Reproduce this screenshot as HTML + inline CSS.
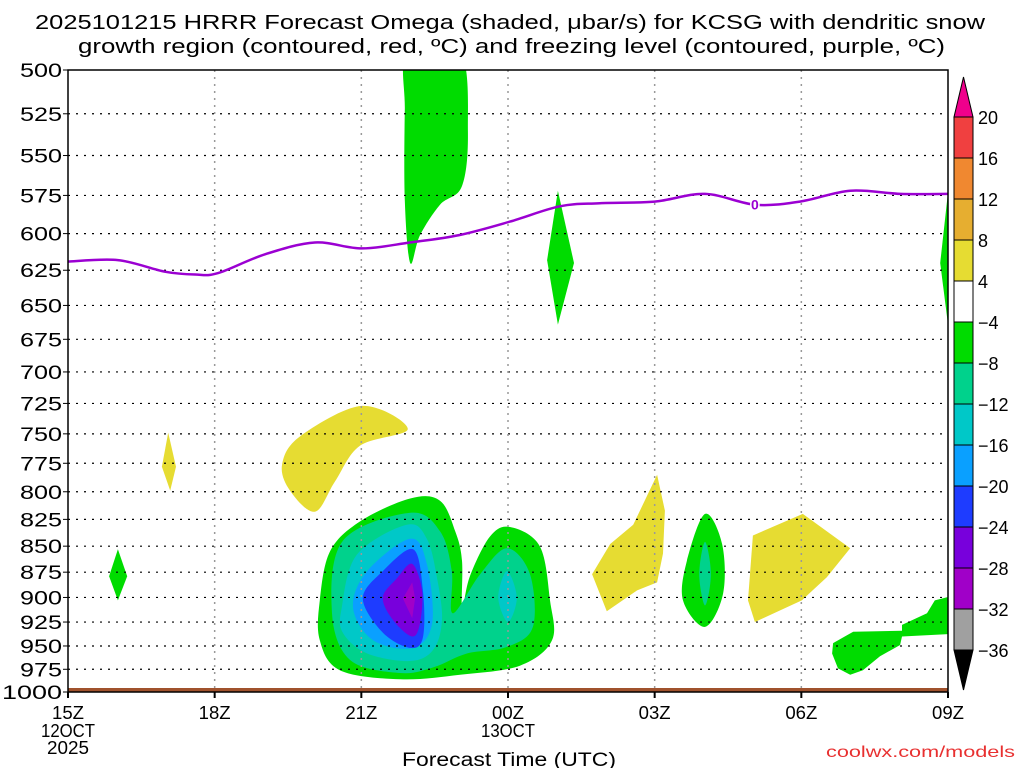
<!DOCTYPE html>
<html><head><meta charset="utf-8"><style>
body{margin:0;background:#fff;width:1024px;height:768px;overflow:hidden;font-family:"Liberation Sans",sans-serif}
svg text{font-family:"Liberation Sans","DejaVu Sans",sans-serif}
</style></head><body>
<svg id="c" width="1024" height="768" xmlns="http://www.w3.org/2000/svg">
<defs><clipPath id="pc"><rect x="68" y="70" width="880" height="622"/></clipPath></defs>
<text x="35" y="29" font-size="20" textLength="950" lengthAdjust="spacingAndGlyphs">2025101215 HRRR Forecast Omega (shaded, μbar/s) for KCSG with dendritic snow</text>
<text x="78" y="53" font-size="20" textLength="867" lengthAdjust="spacingAndGlyphs">growth region (contoured, red, ºC) and freezing level (contoured, purple, ºC)</text>
<g id="fills" clip-path="url(#pc)"></g>
<g id="grid"></g>
<g id="axes"></g>
<g id="cbar"></g>
<text x="402" y="766" font-size="19" textLength="214" lengthAdjust="spacingAndGlyphs">Forecast Time (UTC)</text>
<text x="826" y="757" font-size="16" fill="#e83030" textLength="189" lengthAdjust="spacingAndGlyphs">coolwx.com/models</text>
</svg>
<script>
// ---- data ----
const xTickLabels=["15Z","18Z","21Z","00Z","03Z","06Z","09Z"];
const xTickHours=[0,3,6,9,12,15,18];
const yTickLevels=[500,525,550,575,600,625,650,675,700,725,750,775,800,825,850,875,900,925,950,975,1000];
const freezeHours=[0,1.02,1.98,2.6,3.07,4.03,5.05,6.01,6.99,8.0,9.04,10.06,10.88,12.0,13.03,14.05,14.97,16.0,17.02,18.0];
const freezePres=[619,618,626,628,627,614,606,610,606,601,592,582,580,579,574,581,579,572,574,574];
const cbarLevels=["20","16","12","8","4","−4","−8","−12","−16","−20","−24","−28","−32","−36"];
const cbarColors=["#f04040","#f08830","#e6ae30","#e6dc32","#ffffff","#00dc00","#00d28c","#00c8c8","#0aa0ff","#1e3cff","#7800dc","#a000c8","#a0a0a0"];
// shaded regions: [color, [[hour,pressure],...], smooth]
const regions=[
["#00dc00",[[6.95,490],[8.02,490],[8.18,535],[8.06,569],[7.61,581],[7.2,601],[7.0,620],[6.89,578],[6.89,523]],1],
["#00dc00",[[10.02,572],[10.35,620],[10.02,664],[9.8,618]],0],
["#00dc00",[[18,573],[18,664],[17.84,620]],0],
["#e6dc32",[[2.05,749],[2.21,778],[2.09,799],[1.92,778]],0],
["#00dc00",[[1.02,853],[1.21,879],[1.02,903],[0.84,879]],0],
["#e6dc32",[[4.38,776],[4.75,752],[6.01,727],[6.95,746],[5.97,760],[5.46,791],[5.05,818],[4.54,799]],1],
["#00dc00",[[5.15,903],[5.36,855],[5.97,827],[7.0,806],[7.61,808],[7.92,836],[8.06,864],[8.06,912],[8.22,879],[8.63,841],[9.04,832],[9.65,850],[9.86,903],[9.9,944],[9.25,971],[8.02,981],[6.79,986],[5.56,976],[5.15,944]],1],
["#00d28c",[[5.40,916],[5.62,845],[7.0,819],[7.61,836],[7.85,874],[7.87,916],[8.43,877],[8.98,852],[9.45,877],[9.51,930],[8.98,951],[8.16,958],[7.47,973],[6.79,979],[5.77,965]],1],
["#00c8c8",[[5.60,910],[5.91,858],[6.93,830],[7.34,843],[7.55,881],[7.65,923],[7.47,954],[7.0,966],[6.12,958],[5.62,936]],1],
["#00c8c8",[[8.98,874],[9.18,900],[9.0,925],[8.8,900]],1],
["#0aa0ff",[[5.83,910],[6.12,874],[7.0,843],[7.34,867],[7.45,926],[7.06,952],[6.24,944]],1],
["#1e3cff",[[6.03,901],[6.44,874],[7.06,853],[7.26,893],[7.26,941],[7.0,952],[6.44,936]],1],
["#7800dc",[[6.44,900],[6.73,881],[7.04,867],[7.24,893],[7.2,926],[7.04,940],[6.65,923]],1],
["#a000c8",[[6.85,901],[7.04,885],[7.1,901],[7.04,921]],0],
["#e6dc32",[[12.05,785],[12.21,817],[12.17,857],[12.05,885],[11.64,893],[11.02,914],[10.72,877],[11.09,848],[11.56,830]],0],
["#00dc00",[[13.03,820],[13.38,848],[13.4,896],[13.03,930],[12.58,903],[12.66,864]],1],
["#00d28c",[[13.03,846],[13.15,877],[13.03,908],[12.91,877]],1],
["#e6dc32",[[15.03,820],[16.0,852],[15.52,880],[15.01,903],[14.05,925],[13.91,903],[14.01,840]],0],
["#00dc00",[[18.2,897],[18.2,937],[17.06,940],[17.02,949],[16.61,961],[16.26,976],[16.0,981],[15.75,974],[15.63,958],[15.65,947],[16.06,935],[17.06,934],[17.06,928],[17.57,916],[17.73,903]],0]
];
// ---- scales ----
const X0=68,X1=948,Y0=70,Y1=692,NS="http://www.w3.org/2000/svg";
const xs=h=>X0+(X1-X0)*h/18;
const ys=p=>Y0+(Y1-Y0)*Math.log(p/500)/Math.log(2);
function mk(tag,attrs,parent){const e=document.createElementNS(NS,tag);for(const k in attrs)e.setAttribute(k,attrs[k]);parent.appendChild(e);return e;}
function smoothPath(P){const n=P.length;let d=`M${P[0][0].toFixed(1)},${P[0][1].toFixed(1)}`;
  for(let i=0;i<n;i++){const p0=P[(i-1+n)%n],p1=P[i],p2=P[(i+1)%n],p3=P[(i+2)%n];
    const c1=[p1[0]+(p2[0]-p0[0])/6,p1[1]+(p2[1]-p0[1])/6],c2=[p2[0]-(p3[0]-p1[0])/6,p2[1]-(p3[1]-p1[1])/6];
    d+=`C${c1[0].toFixed(1)},${c1[1].toFixed(1)} ${c2[0].toFixed(1)},${c2[1].toFixed(1)} ${p2[0].toFixed(1)},${p2[1].toFixed(1)}`;}
  return d+'Z';}
const fills=document.getElementById('fills'),grid=document.getElementById('grid'),axes=document.getElementById('axes'),cbar=document.getElementById('cbar');
regions.forEach((r,i)=>{
  const P=r[1].map(v=>[xs(v[0]),ys(v[1])]);
  const e=r[2]?mk('path',{d:smoothPath(P),fill:r[0]},fills):mk('polygon',{points:P.map(v=>v[0].toFixed(1)+','+v[1].toFixed(1)).join(' '),fill:r[0]},fills);
  
  
});
const g=mk('rect',{x:X0,y:688,width:X1-X0,height:4,fill:'#a0522d'},fills);


// grid + y axis
yTickLevels.forEach(p=>{
  if(p>500&&p<1000){const l=mk('line',{x1:X0,x2:X1,y1:ys(p),y2:ys(p),stroke:'#000','stroke-dasharray':'2,6','stroke-width':1.2},grid);
  
  }
  const w=p>=1000?60:42;
  const t=mk('text',{x:62-w,y:ys(p)+7,'font-size':19,textLength:w,lengthAdjust:'spacingAndGlyphs'},axes);t.textContent=p;
  
  
  mk('line',{x1:X0-5,x2:X0,y1:ys(p),y2:ys(p),stroke:'#000'},axes);
});
xTickHours.forEach((h,i)=>{
  if(h>0&&h<18){const l=mk('line',{x1:xs(h),x2:xs(h),y1:Y0,y2:Y1,stroke:'#999','stroke-dasharray':'2,5','stroke-width':1.5},grid);
  
  }
  mk('line',{x1:xs(h),x2:xs(h),y1:Y1,y2:Y1+6,stroke:'#000','stroke-width':2},axes);
  const t=mk('text',{x:xs(h)-16,y:719,'font-size':18,textLength:32,lengthAdjust:'spacingAndGlyphs'},axes);t.textContent=xTickLabels[i];
  
  
});
[["12OCT",0,737,54],["2025",0,754,42],["13OCT",9,737,54]].forEach(a=>{
  const t=mk('text',{x:xs(a[1])-a[3]/2,y:a[2],'font-size':18,textLength:a[3],lengthAdjust:'spacingAndGlyphs'},axes);t.textContent=a[0];
  
  
});
// freezing line
const FP=freezeHours.map((h,i)=>[xs(h),ys(freezePres[i])]);
let fd=`M${FP[0][0]},${FP[0][1]}`;
for(let i=0;i<FP.length-1;i++){const p0=FP[Math.max(i-1,0)],p1=FP[i],p2=FP[i+1],p3=FP[Math.min(i+2,FP.length-1)];
  fd+=`C${(p1[0]+(p2[0]-p0[0])/6).toFixed(1)},${(p1[1]+(p2[1]-p0[1])/6).toFixed(1)} ${(p2[0]-(p3[0]-p1[0])/6).toFixed(1)},${(p2[1]-(p3[1]-p1[1])/6).toFixed(1)} ${p2[0].toFixed(1)},${p2[1].toFixed(1)}`;}
const fl=mk('path',{d:fd,fill:'none',stroke:'#9b00d2','stroke-width':2.5},axes);


const zl=mk('text',{x:xs(14.05),y:ys(581)+5,'font-size':14,'font-weight':'bold',fill:'#9b00d2','text-anchor':'middle',stroke:'#fff','stroke-width':3,'paint-order':'stroke'},axes);zl.textContent='0';


const fr=mk('rect',{x:X0,y:Y0,width:X1-X0,height:Y1-Y0,fill:'none',stroke:'#000','stroke-width':1.5},axes);


// colorbar
const CX=954,CW=19,CT=117,CS=41;
const tri=mk('polygon',{points:`${CX},${CT} ${CX+CW},${CT} ${CX+CW/2},77`,fill:'#f0008c',stroke:'#000'},cbar);


cbarColors.forEach((c,i)=>{
  const r=mk('rect',{x:CX,y:CT+i*CS,width:CW,height:CS,fill:c,stroke:'#000'},cbar);
  
  
});
const bt=CT+cbarColors.length*CS;
const tri2=mk('polygon',{points:`${CX},${bt} ${CX+CW},${bt} ${CX+CW/2},${bt+40}`,fill:'#000',stroke:'#000'},cbar);


cbarLevels.forEach((l,i)=>{
  const t=mk('text',{x:978,y:CT+i*CS+7,'font-size':18},cbar);t.textContent=l;
  
  
});
</script>
</body></html>
